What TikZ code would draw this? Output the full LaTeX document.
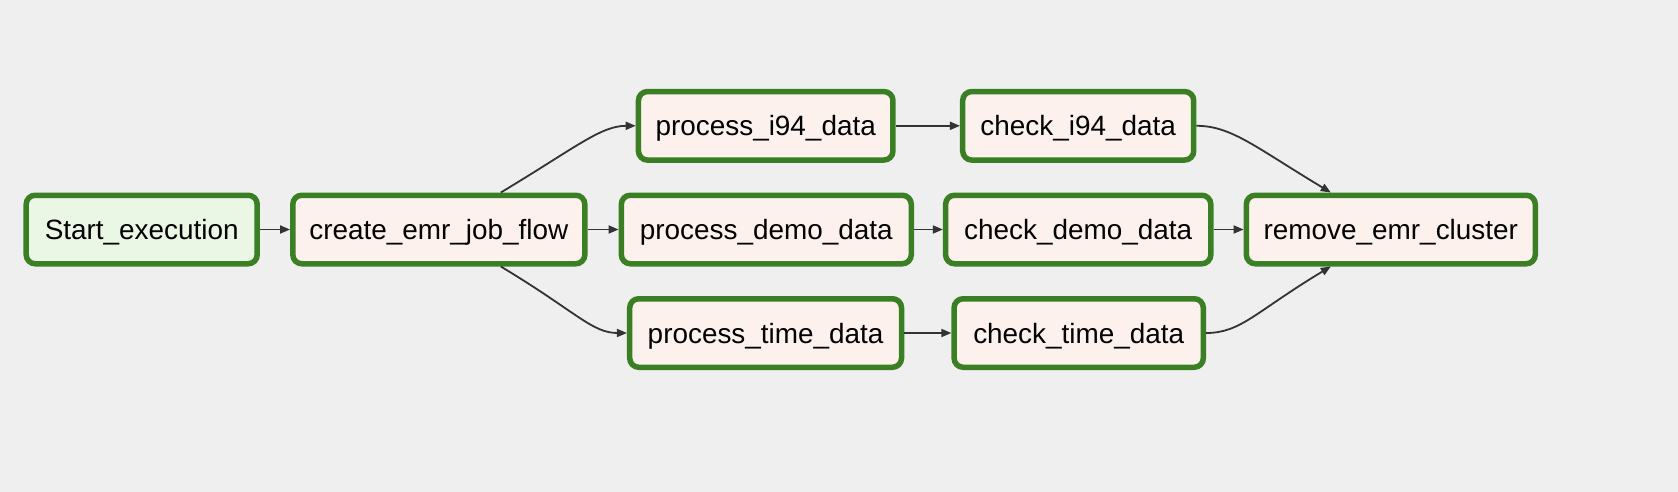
\documentclass[tikz,border=0pt]{standalone}
\usepackage{fontspec}
\setmainfont{Liberation Sans}
\usetikzlibrary{arrows.meta}
\definecolor{bgc}{HTML}{EFEFEF}
\definecolor{okgreen}{HTML}{3A7F23}
\definecolor{taskfill}{HTML}{FCF1ED}
\definecolor{startfill}{HTML}{E9F7E4}
\definecolor{edgec}{HTML}{333333}
\tikzset{
  task/.style={draw=okgreen, line width=5.5pt, rounded corners=9pt, fill=taskfill,
    minimum height=68.5pt, inner sep=0pt, text=black, text depth=0pt,
    font=\fontsize{27.9}{33}\selectfont},
  startbox/.style={task, fill=startfill},
  edge/.style={draw=edgec, line width=1.8pt, -{Stealth[length=10pt,width=8pt,inset=0pt]}}
}
\begin{document}
\begin{tikzpicture}[x=1pt,y=-1pt]
\useasboundingbox[fill=bgc] (0,0) rectangle (1678,492);
\node[startbox, minimum width=231pt] (start) at (141.7,229.5) {Start\_execution};
\node[task, minimum width=292pt] (create) at (438.8,229.5) {create\_emr\_job\_flow};
\node[task, minimum width=254.5pt] (pi94) at (765.7,125.8) {process\_i94\_data};
\node[task, minimum width=231pt] (ci94) at (1078.2,125.8) {check\_i94\_data};
\node[task, minimum width=289.9pt] (pdemo) at (766.3,229.5) {process\_demo\_data};
\node[task, minimum width=265.2pt] (cdemo) at (1078.2,229.5) {check\_demo\_data};
\node[task, minimum width=288.9pt] (remove) at (1390.8,229.5) {remove\_emr\_cluster};
\node[task, minimum width=271.8pt] (ptime) at (765.6,333.0) {process\_time\_data};
\node[task, minimum width=249.2pt] (ctime) at (1078.7,333.0) {check\_time\_data};
\coordinate (cTop) at ([xshift=62pt]create.north);
\coordinate (cBot) at ([xshift=62pt]create.south);
\coordinate (rTop) at ([xshift=-60pt]remove.north);
\coordinate (rBot) at ([xshift=-60pt]remove.south);
\draw[edge] (start) -- (create);
\draw[edge] (create) -- (pdemo);
\draw[edge] (pdemo) -- (cdemo);
\draw[edge] (cdemo) -- (remove);
\draw[edge] (pi94) -- (ci94);
\draw[edge] (ptime) -- (ctime);
\draw[edge] (cTop) .. controls +(75,-45) and +(-35,0) .. (pi94.west);
\draw[edge] (cBot) .. controls +(75,45) and +(-35,0) .. (ptime.west);
\draw[edge] (ci94.east) .. controls +(35,0) and +(-75,-45) .. (rTop);
\draw[edge] (ctime.east) .. controls +(35,0) and +(-75,45) .. (rBot);
\end{tikzpicture}
\end{document}
